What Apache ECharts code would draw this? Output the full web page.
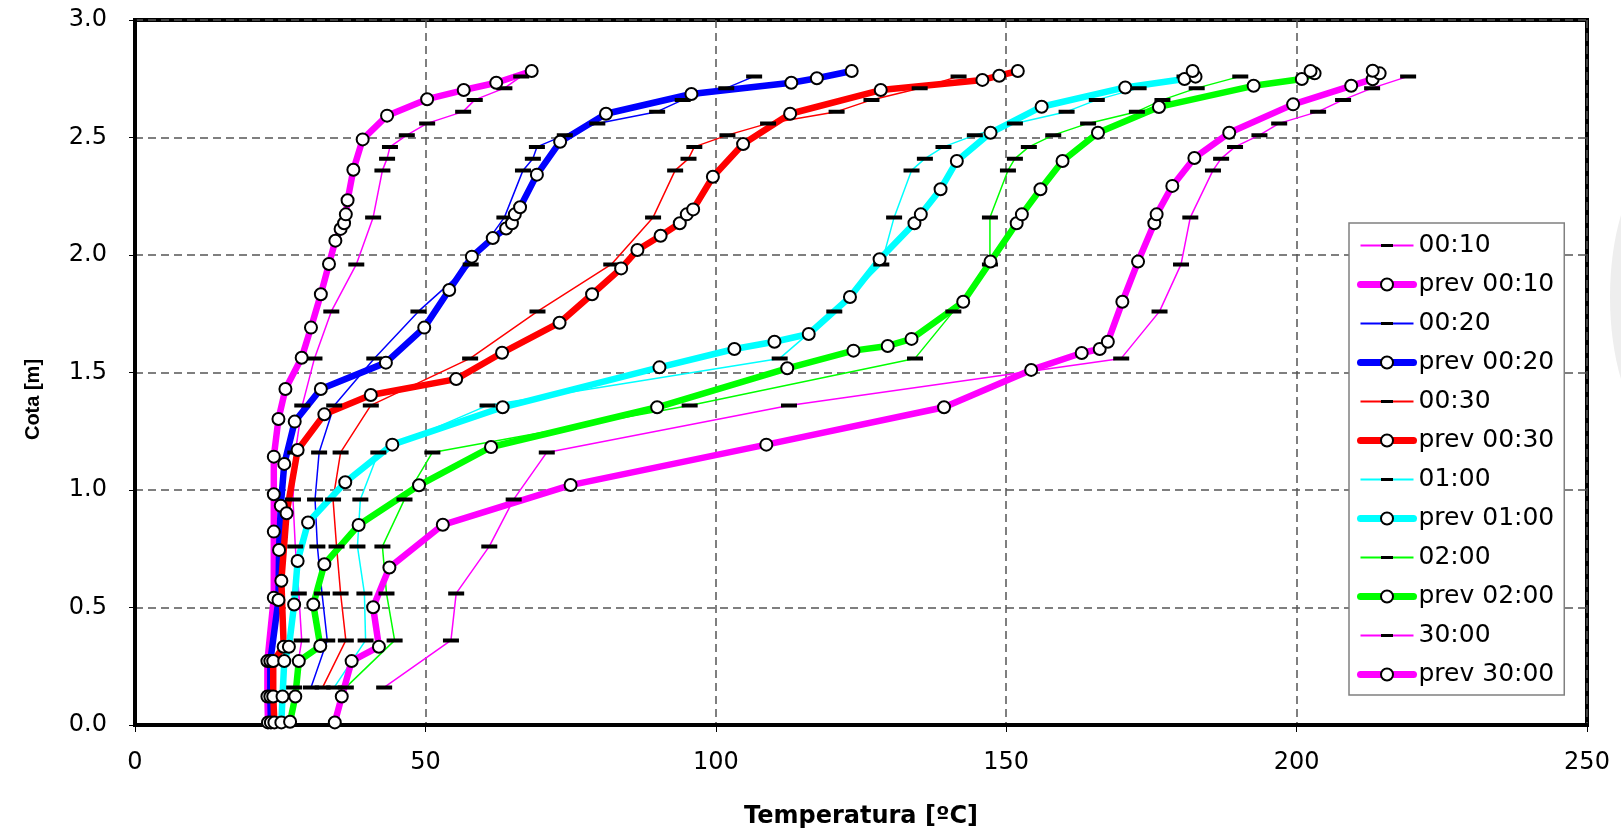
<!DOCTYPE html>
<html><head><meta charset="utf-8">
<script src="https://cdn.jsdelivr.net/npm/echarts@6/dist/echarts.min.js"></script>
<style>html,body{margin:0;padding:0;background:#fff}#c{width:1621px;height:834px}</style>
</head><body><div id="c"></div>
<script>
// ---- measured profiles (thin lines, dash markers) ----
const measHeights = [0.16,0.36,0.56,0.76,0.96,1.16,1.36,1.56,1.76,1.96,2.16,2.36,2.41,2.46,2.51,2.56,2.61,2.66,2.71,2.76];
const m0010 = [27.4,28.7,28.2,27.6,27.2,27.6,28.8,30.9,33.8,38.1,41.0,42.6,43.4,43.9,46.8,50.3,56.5,58.5,63.6,66.5];
const m0020 = [30.3,33.1,32.2,31.4,31.0,31.7,34.3,41.2,48.8,57.8,63.6,66.8,68.5,69.2,74.0,79.6,89.9,94.3,101.8,106.6];
const m0030 = [32.3,36.3,35.4,34.7,34.1,35.4,40.6,57.7,69.3,82.0,89.2,93.0,95.3,96.3,102.0,109.0,120.8,126.8,135.1,141.8];
const m0100 = [34.3,39.7,39.5,38.3,38.8,41.9,60.7,111.0,120.4,128.5,130.7,133.7,136.0,139.2,144.6,151.5,160.4,165.6,172.8,180.7];
const m0200 = [36.3,44.7,43.3,42.6,46.4,51.2,95.5,134.3,140.9,147.2,147.2,150.3,151.5,153.9,158.1,164.1,172.5,176.9,182.8,190.3];
const m3000 = [42.9,54.4,55.3,61.0,65.2,70.9,112.6,169.8,176.4,180.1,181.7,185.6,187.0,189.4,193.6,197.0,203.7,208.0,213.0,219.2];

// ---- predicted profiles (thick lines, circle markers) ----
const pH0010 = [0.011,0.121,0.272,0.542,0.823,0.982,1.142,1.302,1.430,1.563,1.691,1.833,1.962,2.061,2.111,2.135,2.173,2.233,2.363,2.492,2.593,2.663,2.702,2.733,2.783];
const pT0010 = [22.9,22.8,22.8,23.9,23.9,23.9,23.9,24.7,25.9,28.7,30.3,32.0,33.4,34.5,35.4,36.0,36.3,36.6,37.6,39.2,43.4,50.3,56.6,62.2,68.3];
const pH0020 = [0.011,0.121,0.272,0.532,0.745,0.933,1.111,1.291,1.430,1.542,1.691,1.851,1.993,2.072,2.113,2.135,2.173,2.203,2.342,2.482,2.601,2.685,2.733,2.752,2.783];
const pT0020 = [23.4,23.3,23.3,24.7,24.8,25.1,25.7,27.5,32.0,43.2,49.8,54.1,58.0,61.6,63.9,64.9,65.4,66.3,69.2,73.2,81.1,95.8,113.0,117.4,123.4];
const pH0030 = [0.011,0.121,0.272,0.333,0.614,0.901,1.170,1.322,1.404,1.472,1.584,1.712,1.833,1.943,2.021,2.082,2.135,2.173,2.194,2.333,2.472,2.601,2.702,2.745,2.763,2.783];
const pT0030 = [24.0,23.8,23.8,25.6,25.2,26.1,28.0,32.6,40.6,55.3,63.2,73.1,78.7,83.7,86.5,90.5,93.8,95.0,96.1,99.5,104.7,112.8,128.4,145.9,148.8,152.0];
const pH0100 = [0.011,0.121,0.272,0.333,0.513,0.698,0.862,1.033,1.193,1.352,1.522,1.600,1.631,1.664,1.821,1.982,2.135,2.173,2.280,2.400,2.520,2.631,2.713,2.749,2.759,2.783];
const pT0100 = [25.2,25.4,25.7,26.5,27.4,28.0,29.8,36.2,44.3,63.3,90.3,103.2,110.1,116.0,123.1,128.2,134.2,135.3,138.7,141.5,147.3,156.1,170.5,180.7,182.6,182.1];
const pH0200 = [0.014,0.121,0.272,0.336,0.513,0.684,0.851,1.020,1.183,1.352,1.518,1.593,1.613,1.643,1.801,1.972,2.135,2.173,2.280,2.400,2.520,2.630,2.720,2.749,2.773,2.783];
const pT0200 = [26.7,27.6,28.2,31.9,30.7,32.6,38.5,48.9,61.3,89.9,112.3,123.7,129.6,133.7,142.6,147.3,151.8,152.7,155.9,159.7,165.8,176.3,192.6,200.9,203.1,202.4];
const pH3000 = [0.011,0.121,0.272,0.333,0.501,0.670,0.852,1.021,1.193,1.352,1.511,1.583,1.600,1.631,1.801,1.972,2.135,2.173,2.294,2.413,2.520,2.641,2.720,2.748,2.773,2.784];
const pT3000 = [34.4,35.6,37.3,42.0,41.0,43.8,53.0,75.0,108.7,139.3,154.3,163.0,166.1,167.5,170.0,172.7,175.5,175.9,178.6,182.4,188.4,199.4,209.4,213.1,214.3,213.1];

const seriesNames = ['00:10','prev 00:10','00:20','prev 00:20','00:30','prev 00:30','01:00','prev 01:00','02:00','prev 02:00','30:00','prev 30:00'];
const seriesColors = ['#FF00FF','#0000FF','#FF0000','#00FFFF','#00FF00','#FF00FF'];

const measured = [m0010,m0020,m0030,m0100,m0200,m3000];
const predT = [pT0010,pT0020,pT0030,pT0100,pT0200,pT3000];
const predH = [pH0010,pH0020,pH0030,pH0100,pH0200,pH3000];

const dashSymbol = 'path://M0,0L0.01,0ZM0,16L0.01,16ZM0,6L16,6L16,10L0,10Z';
const FONT = 'DejaVu Sans';

const series = [];
const legendData = [];
for (let i = 0; i < 6; i++) {
  series.push({
    name: seriesNames[2*i], type: 'line',
    data: measured[i].map((t, k) => [t, measHeights[k]]),
    symbol: dashSymbol, symbolSize: 16,
    lineStyle: { color: seriesColors[i], width: 1.5 },
    itemStyle: { color: '#000', borderWidth: 0 },
    emphasis: { disabled: true }, animation: false
  });
  legendData.push({ name: seriesNames[2*i], lineStyle: { color: seriesColors[i], width: 2 } });
  series.push({
    name: seriesNames[2*i+1], type: 'line',
    data: predT[i].map((t, k) => [t, predH[i][k]]),
    symbol: 'circle', symbolSize: 12,
    lineStyle: { color: seriesColors[i], width: 6.5 },
    itemStyle: { color: '#fff', borderColor: '#000', borderWidth: 2 },
    emphasis: { disabled: true }, animation: false
  });
  legendData.push({ name: seriesNames[2*i+1], lineStyle: { color: seriesColors[i], width: 7, cap: 'round' } });
}

const chart = echarts.init(document.getElementById('c'), null, { renderer: 'canvas' });
chart.setOption({
  backgroundColor: '#fff',
  animation: false,
  graphic: [{
    type: 'ellipse', z: -10, shape: { cx: 1668, cy: 297, rx: 58, ry: 140 },
    style: { fill: '#eeeeee' }, silent: true
  }],
  grid: { left: 135, right: 34, top: 20, bottom: 109, show: true, borderColor: '#000', borderWidth: 4, backgroundColor: '#fff' },
  xAxis: {
    type: 'value', min: 0, max: 250, interval: 50,
    name: 'Temperatura [ºC]', nameLocation: 'middle', nameGap: 80,
    nameTextStyle: { fontFamily: FONT, fontWeight: 'bold', fontSize: 24, color: '#000' },
    axisLine: { show: true, onZero: false, lineStyle: { color: '#000', width: 4 } },
    axisTick: { show: true, length: 7, lineStyle: { color: '#000', width: 1 } },
    axisLabel: { fontFamily: FONT, fontSize: 24, color: '#000', margin: 26 },
    splitLine: { show: true, lineStyle: { color: '#555', width: 1.5, type: [8, 5] } }
  },
  yAxis: {
    type: 'value', min: 0, max: 3, interval: 0.5,
    name: 'Cota [m]', nameLocation: 'middle', nameGap: 92,
    nameTextStyle: { fontFamily: "'Liberation Sans Narrow', 'Liberation Sans'", fontWeight: 'bold', fontSize: 20, color: '#000', padding: [0, 54, 0, 0] },
    axisLine: { show: true, onZero: false, lineStyle: { color: '#000', width: 4 } },
    axisTick: { show: true, length: 6, lineStyle: { color: '#000', width: 1 } },
    axisLabel: { fontFamily: FONT, fontSize: 24, color: '#000', margin: 28, formatter: v => v.toFixed(1) },
    splitLine: { show: true, lineStyle: { color: '#555', width: 1.5, type: [8, 5] } }
  },
  legend: {
    orient: 'vertical', left: 1349, top: 223,
    padding: [10, 10, 8, 8], itemWidth: 53, itemHeight: 15, itemGap: 14,
    backgroundColor: '#fff', borderColor: '#808080', borderWidth: 1.5,
    textStyle: { fontFamily: FONT, fontSize: 25, color: '#000', lineHeight: 25 },
    lineStyle: { width: 'inherit' },
    data: legendData, selectedMode: false
  },
  series: series
});
</script></body></html>
